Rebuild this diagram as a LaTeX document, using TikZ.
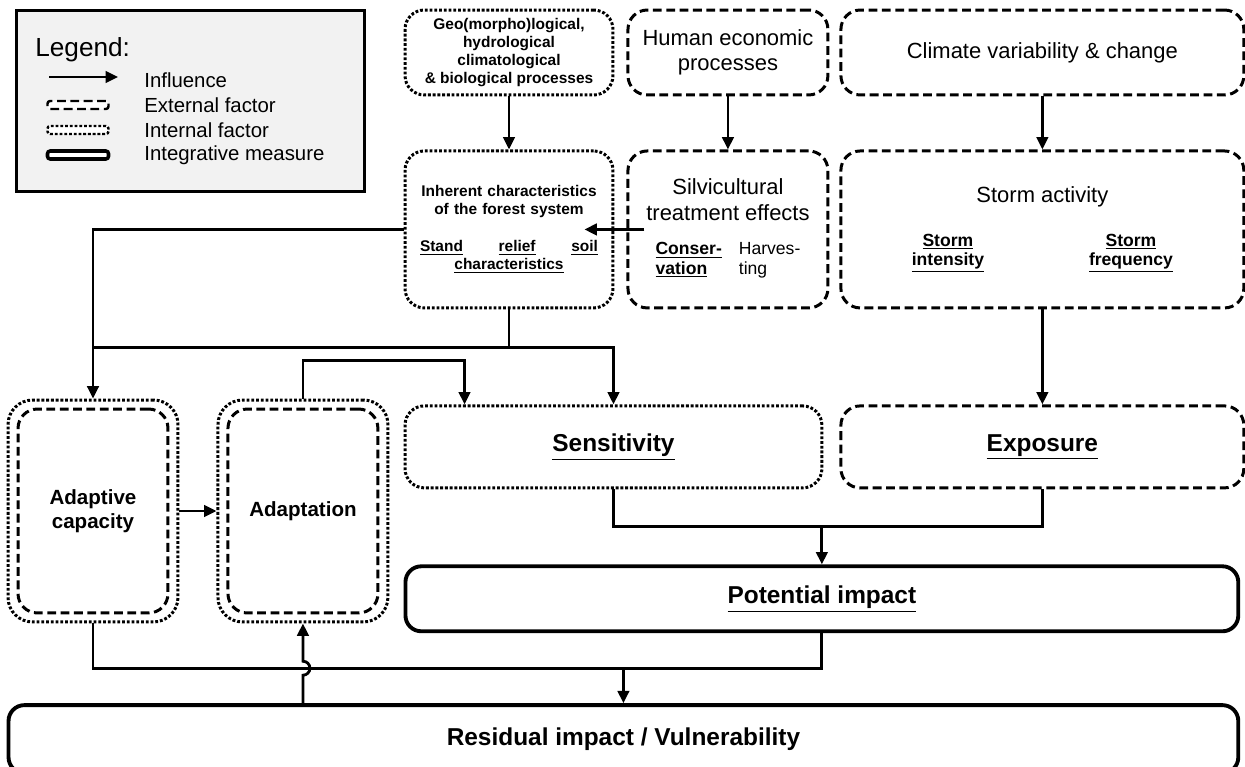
\documentclass[tikz,border=0pt]{standalone}
\usepackage{fontspec}
\setmainfont{Liberation Sans}
\usetikzlibrary{positioning,calc,arrows.meta}
\newcommand{\boxfont}{\fontsize{12.5}{14.5}\selectfont}
\newcommand{\smallbold}{\fontsize{8.8}{10.2}\selectfont\bfseries}
\newcommand{\bigbold}{\fontsize{13.9}{15.5}\selectfont\bfseries}
\newcommand{\midbold}{\fontsize{11.7}{14}\selectfont\bfseries}
\newcommand{\subtext}{\fontsize{10}{11}\selectfont}
\tikzset{
  flow/.style={line width=1.6pt,-{Triangle[length=7pt,width=6.5pt]}},
  pipe/.style={line width=1.6pt},
  extfactor/.style={draw,line width=1.7pt,dash pattern=on 5pt off 2.6pt,rounded corners=11pt,align=center},
  intfactor/.style={draw,line width=1.7pt,dash pattern=on 1.6pt off 1.1pt,rounded corners=11pt,align=center},
  measure/.style={draw,line width=2.2pt,rounded corners=9pt,align=center},
  legsym/.style={minimum width=1.22cm,minimum height=0.16cm,inner sep=0pt,rounded corners=1.5pt,fill=white},
  legtext/.style={anchor=west,inner sep=0pt,font=\fontsize{11.6}{13}\selectfont}
}

\begin{document}
\begin{tikzpicture}[x=0.02cm,y=-0.02cm]
\useasboundingbox (0,0) rectangle (1245,767);

% legend
\node[draw,line width=1.7pt,fill=gray!10,minimum width=6.98cm,minimum height=3.64cm] (legend) at (190.5,101) {};
\node[anchor=west,inner sep=0pt,font=\fontsize{14.9}{16}\selectfont] (legtitle) at (35,50) {Legend:};
\coordinate (infl1) at (49,77);
\coordinate (infl2) at (118,77);
\draw[flow] (infl1) -- (infl2);
\node[extfactor,legsym,line width=1.4pt] (legext) at (78,105) {};
\node[intfactor,legsym,line width=1.4pt] (legint) at (78,130) {};
\node[measure,legsym,line width=2pt] (legmeas) at (78,155) {};
\node[legtext] (leginfl) at (144,80) {Influence};
\node[legtext] (legexttext) at (144,105) {External factor};
\node[legtext] (leginttext) at (144,130) {Internal factor};
\node[legtext] (legmeastext) at (144,155) {Integrative measure};

% top row
\node[intfactor,minimum width=4.16cm,minimum height=1.7cm,font=\smallbold] (geo) at (509,52.5) {Geo(morpho)logical,\\hydrological\\climatological\\\& biological processes};
\node[extfactor,minimum width=4cm,minimum height=1.7cm,font=\boxfont] (human) [right=0.24cm of geo] {Human economic\\processes};
\node[extfactor,minimum width=8.06cm,minimum height=1.7cm,font=\boxfont] (climate) [right=0.2cm of human] {Climate variability \& change};

% second row
\node[intfactor,minimum width=4.16cm,minimum height=3.14cm,text width=3.56cm,font=\smallbold] (inherent) [below=1.06cm of geo] {Inherent characteristics\\of the forest system\\[11pt]\underline{Stand}\hfill\underline{relief}\hfill\underline{soil}\\\underline{characteristics}};
\node[extfactor,minimum width=4cm,minimum height=3.14cm,font=\boxfont] (silv) [below=1.06cm of human] {Silvicultural\\treatment effects\\[5pt]{\subtext\begin{tabular}[t]{@{}l@{\hspace{0.34cm}}l@{}}\textbf{\underline{Conser-}} & Harves-\\\textbf{\underline{vation}} & ting\end{tabular}}};
\node[extfactor,minimum width=8.06cm,minimum height=3.14cm,font=\boxfont] (storm) [below=1.06cm of climate] {Storm activity\\[10.5pt]{\subtext\bfseries\begin{tabular}[t]{@{}c@{\hspace{2.1cm}}c@{}}\underline{Storm} & \underline{Storm}\\\underline{intensity} & \underline{frequency}\end{tabular}}};

% third row
\node[intfactor,minimum width=8.34cm,minimum height=1.64cm,font=\bigbold,below=1.9cm of inherent.south west,anchor=north west] (sens) {\underline{Sensitivity}};
\node[extfactor,minimum width=8.06cm,minimum height=1.64cm,font=\bigbold] (expo) [below=1.9cm of storm] {\underline{Exposure}};

\node[intfactor,minimum width=3.4cm,minimum height=4.44cm,rounded corners=14pt] (adcap) at (93,511) {};
\node[extfactor,minimum width=3cm,minimum height=4.08cm,rounded corners=11pt,font=\midbold] (adcapin) at (adcap.center) {Adaptive\\capacity};
\node[intfactor,minimum width=3.4cm,minimum height=4.44cm,rounded corners=14pt] (adapt) [right=0.74cm of adcap] {};
\node[extfactor,minimum width=3cm,minimum height=4.08cm,rounded corners=11pt,font=\midbold] (adaptin) at (adapt.center) {Adaptation};

% impacts
\node[measure,minimum width=16.66cm,minimum height=1.3cm,font=\bigbold,below=1.5cm of sens.south west,anchor=north west] (potimp) {\underline{Potential impact}};
\node[measure,minimum width=24.6cm,minimum height=1.36cm,font=\bigbold,below=1.4cm of potimp.south east,anchor=north east] (resid) {Residual impact / Vulnerability};

% influences
\draw[flow] (geo) -- (inherent);
\draw[flow] (human) -- (silv);
\draw[flow] (climate) -- (storm);
\draw[flow] ([xshift=0.36cm]silv.west) -- ([xshift=-0.6cm]inherent.east);
\draw[flow] (inherent.west) -| (adcap.north);
\draw[pipe] (inherent.south) -- ++(0,38) coordinate (fork1);
\draw[pipe] (fork1) -- (fork1 -| adcap.north);
\draw[flow] (fork1) -| (sens.north);
\draw[flow] (adapt.north) -- ++(0,-38) -| ($(sens.north west)+(61,0)$);
\draw[flow] (storm) -- (expo);
\draw[flow] (adcap) -- (adapt);
\draw[pipe] (sens.south) -- ++(0,37) coordinate (fork2) -| (expo.south);
\draw[flow] (fork2 -| potimp.north) -- (potimp.north);
\draw[pipe] (potimp.south) -- ++(0,35) coordinate (fork3) -| (adcap.south);
\draw[flow] (fork3 -| resid.north) -- (resid.north);
\draw[flow] (resid.north -| adapt.south) -- ($(fork3 -| adapt.south)+(0,7)$) arc[start angle=90,end angle=-90,radius=7] -- (adapt.south);
\end{tikzpicture}
\end{document}
